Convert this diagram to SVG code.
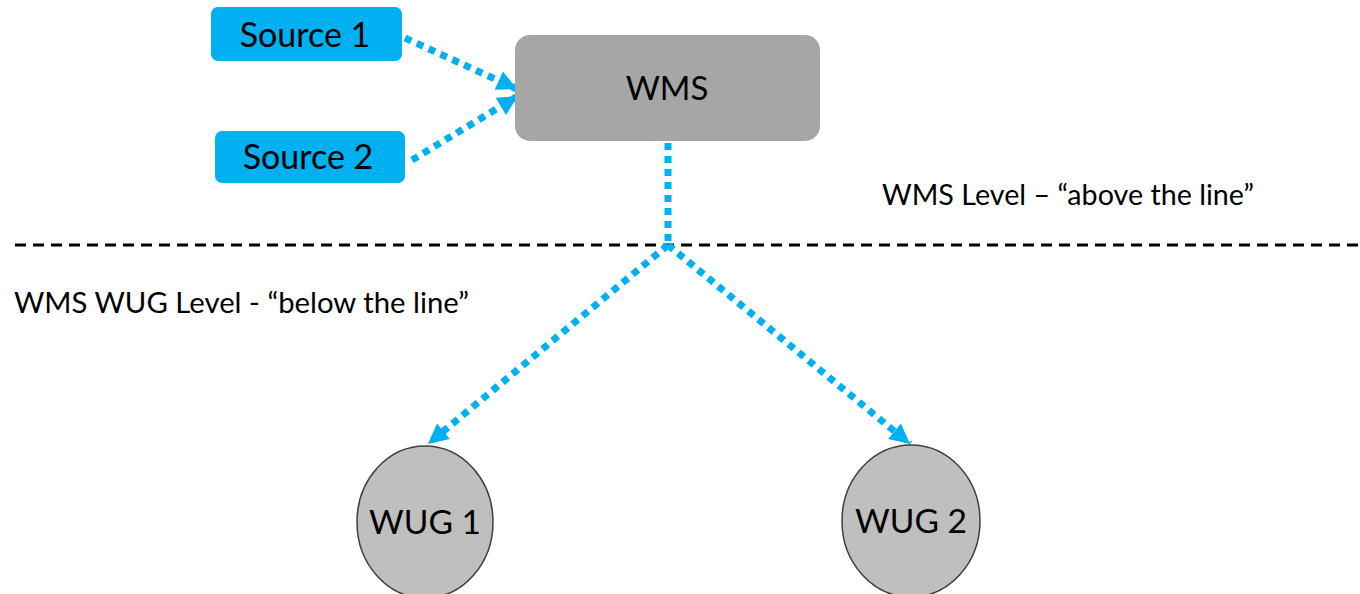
<svg xmlns="http://www.w3.org/2000/svg" width="1360" height="594" viewBox="0 0 1360 594">
<style>
.src{fill:#00b0f0;}
.lbl{font-family:Lato,"Liberation Sans",sans-serif;fill:#000;}
.mid{text-anchor:middle;}
.conn{fill:none;stroke:#00b0f0;stroke-width:7;stroke-dasharray:7 6;}
.wug{fill:#bfbfbf;stroke:#404040;stroke-width:1.5;}
</style>
<defs>
<marker id="ah" viewBox="0 0 20 20" refX="20" refY="10" markerWidth="22" markerHeight="20" markerUnits="userSpaceOnUse" orient="auto">
<path d="M0,0 L20,10 L0,20 z" fill="#00b0f0"/>
</marker>
</defs>
<rect width="1360" height="594" fill="#fff"/>
<line x1="15" y1="245" x2="1360" y2="245" stroke="#000" stroke-width="3" stroke-dasharray="11 7"/>
<text class="lbl" x="882" y="205" font-size="28.7">WMS Level – “above the line”</text>
<text class="lbl" x="14" y="313" font-size="29.3">WMS WUG Level - “below the line”</text>
<g id="connectors">
<line class="conn" x1="405" y1="38" x2="517" y2="89" marker-end="url(#ah)"/>
<line class="conn" x1="412" y1="160" x2="518" y2="96" marker-end="url(#ah)"/>
<polyline class="conn" points="668,143 668,245"/>
<line class="conn" x1="668" y1="245" x2="428" y2="444" marker-end="url(#ah)"/>
<line class="conn" x1="668" y1="245" x2="910" y2="444" marker-end="url(#ah)"/>
</g>
<g id="source1">
<rect class="src" x="211" y="7" width="191" height="54" rx="7"/>
<text class="lbl mid" x="305" y="47" font-size="34">Source 1</text>
</g>
<g id="source2">
<rect class="src" x="215" y="131" width="190" height="52" rx="7"/>
<text class="lbl mid" x="308" y="169" font-size="34">Source 2</text>
</g>
<g id="wms">
<rect x="515" y="35" width="305" height="106" rx="15" fill="#a6a6a6"/>
<text class="lbl mid" x="667" y="100" font-size="33">WMS</text>
</g>
<g id="wug1">
<ellipse class="wug" cx="425" cy="522" rx="68" ry="76"/>
<text class="lbl mid" x="425" y="534" font-size="33.5">WUG 1</text>
</g>
<g id="wug2">
<ellipse class="wug" cx="911" cy="521" rx="69" ry="76"/>
<text class="lbl mid" x="911" y="533" font-size="33.5">WUG 2</text>
</g>
</svg>
